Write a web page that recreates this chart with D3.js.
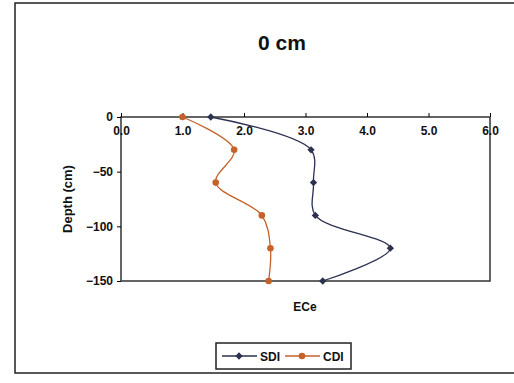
<!DOCTYPE html>
<html>
<head>
<meta charset="utf-8">
<script src="https://cdn.jsdelivr.net/npm/d3@7"></script>
<style>
  body { margin: 0; background: #fff; }
  text { font-family: Arial, "Liberation Sans", sans-serif; font-weight: bold; fill: #111; }
</style>
</head>
<body>
<svg width="514" height="383"></svg>
<script>
var depths = [0, -30, -60, -90, -120, -150];
var sdi = [1.46, 3.09, 3.13, 3.16, 4.38, 3.28];
var cdi = [1.0, 1.84, 1.54, 2.29, 2.43, 2.40];
var xTicks = [0, 1, 2, 3, 4, 5, 6];
var yTicks = [0, -50, -100, -150];

var svg = d3.select("svg"),
    margin = {top: 117, right: 24, bottom: 102, left: 121},
    width = +svg.attr("width") - margin.left - margin.right,
    height = +svg.attr("height") - margin.top - margin.bottom;

var x = d3.scaleLinear().domain([0, 6]).range([0, width]),
    y = d3.scaleLinear().domain([-150, 0]).range([height, 0]);

var series = [
  {name: "SDI", values: sdi, color: "#2c3150", marker: d3.symbolDiamond2, size: 34},
  {name: "CDI", values: cdi, color: "#c4622a", marker: d3.symbolCircle, size: 34}
];

// outer frame
svg.append("rect")
    .attr("x", 15).attr("y", 3)
    .attr("width", 510).attr("height", 370)
    .attr("fill", "none").attr("stroke", "#222").attr("stroke-width", 1.5);

svg.append("text")
    .attr("x", 282).attr("y", 50)
    .attr("text-anchor", "middle")
    .style("font-size", "21px")
    .text("0 cm");

var g = svg.append("g")
    .attr("transform", "translate(" + margin.left + "," + margin.top + ")");

g.append("rect")
    .attr("width", width).attr("height", height)
    .attr("fill", "none").attr("stroke", "#333").attr("stroke-width", 1.5);

var xAxis = d3.axisBottom(x).tickValues(xTicks)
    .tickFormat(d3.format(".1f"))
    .tickSizeInner(-4).tickSizeOuter(0).tickPadding(9);

var gx = g.append("g").call(xAxis);
gx.select(".domain").remove();
gx.selectAll("text").style("font-size", "12px").attr("fill", "#111");

var yAxis = d3.axisLeft(y).tickValues(yTicks)
    .tickSizeInner(4).tickSizeOuter(0).tickPadding(4);

var gy = g.append("g").call(yAxis);
gy.select(".domain").remove();
gy.selectAll("text").style("font-size", "12px").attr("fill", "#111");

var line = d3.line()
    .curve(d3.curveCatmullRom.alpha(0.5))
    .x(function(d) { return x(d.v); })
    .y(function(d) { return y(d.depth); });

series.forEach(function(s) {
  var pts = s.values.map(function(v, i) { return {v: v, depth: depths[i]}; });
  g.append("path")
      .attr("d", line(pts))
      .attr("fill", "none")
      .attr("stroke", s.color)
      .attr("stroke-width", 1.3);
  g.selectAll(".pt-" + s.name)
    .data(pts)
    .enter().append("path")
      .attr("d", d3.symbol().type(s.marker).size(s.size))
      .attr("transform", function(d) { return "translate(" + x(d.v) + "," + y(d.depth) + ")"; })
      .attr("fill", s.color);
});

svg.append("text")
    .attr("transform", "translate(" + 72 + "," + (margin.top + height / 2 + 0) + ")rotate(270)")
    .attr("text-anchor", "middle")
    .style("font-size", "13px")
    .text("Depth (cm)");

svg.append("text")
    .attr("x", 305).attr("y", 311)
    .attr("text-anchor", "middle")
    .style("font-size", "12px")
    .text("ECe");

// legend
var legend = svg.append("g").attr("transform", "translate(216,343)");
legend.append("rect")
    .attr("width", 135).attr("height", 26)
    .attr("fill", "#fff").attr("stroke", "#222").attr("stroke-width", 1.5);

series.forEach(function(s, i) {
  var lx = 6 + i * 63;
  legend.append("line")
      .attr("x1", lx).attr("x2", lx + 35)
      .attr("y1", 13).attr("y2", 13)
      .attr("stroke", s.color).attr("stroke-width", 1.3);
  legend.append("path")
      .attr("d", d3.symbol().type(s.marker).size(s.size))
      .attr("transform", "translate(" + (lx + 17) + ",13)")
      .attr("fill", s.color);
  legend.append("text")
      .attr("x", lx + 38).attr("y", 17.5)
      .style("font-size", "12px")
      .text(s.name);
});
</script>
</body>
</html>
